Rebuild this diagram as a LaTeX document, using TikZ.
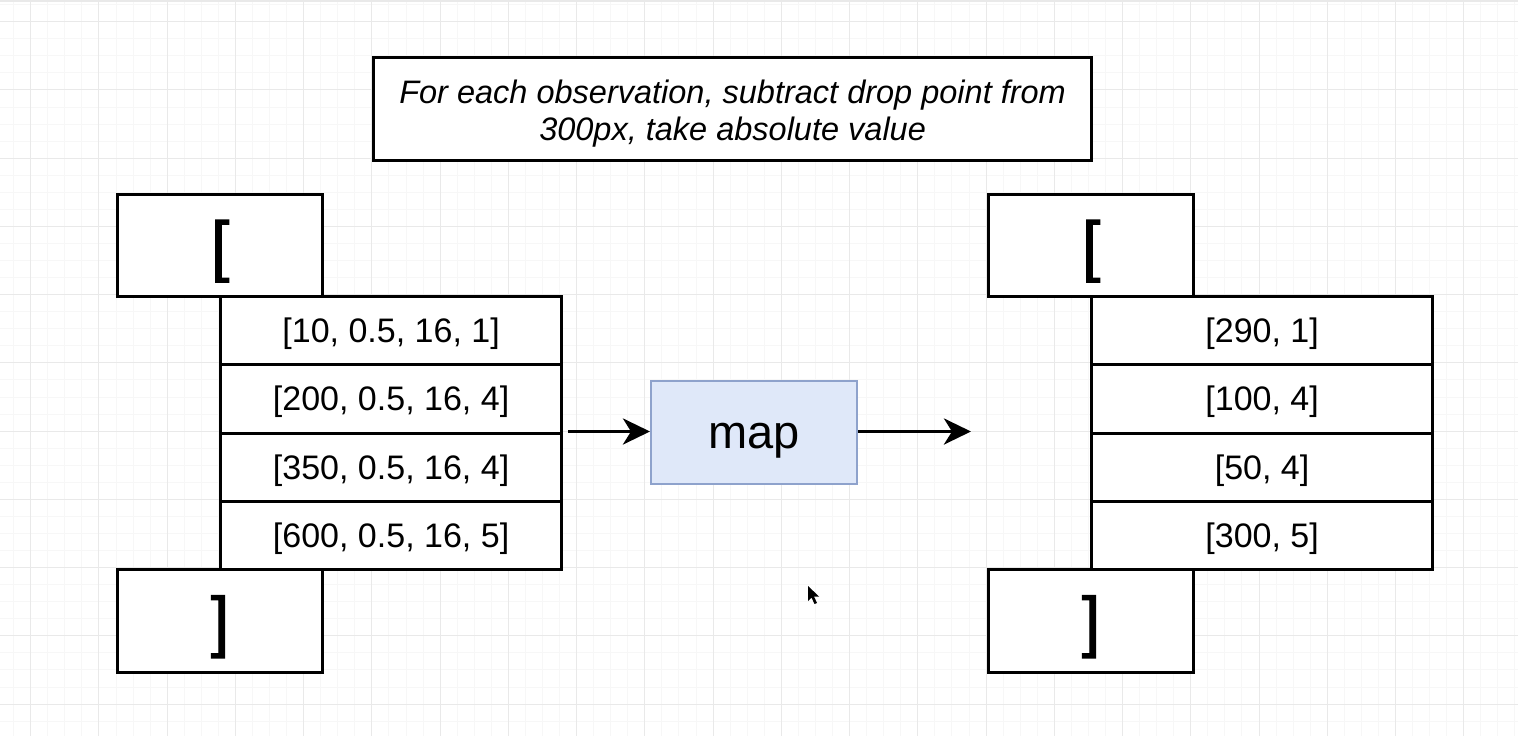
\documentclass[tikz,border=0pt]{standalone}
\usepackage{fontspec}
\setmainfont{Liberation Sans}
\newfontfamily\brkfont{Liberation Sans}[FakeBold=1.6]
\usetikzlibrary{arrows.meta}
\definecolor{gridminor}{HTML}{F7F7F7}
\definecolor{gridmajor}{HTML}{E9E9E9}
\definecolor{mapfill}{HTML}{DFE8F9}
\definecolor{mapdraw}{HTML}{8EA2CC}
\tikzset{
  boxbase/.style={draw=black, line width=3.2pt, inner sep=0pt, anchor=north west, fill=white},
  brkbox/.style={boxbase, minimum width=205pt, minimum height=102.5pt,
    font=\brkfont\fontsize{67}{80}\selectfont, text height=60.6pt, text depth=14.2pt},
  rowbox/.style={boxbase, minimum width=341pt, minimum height=68.25pt,
    font=\fontsize{34}{40}\selectfont, text height=30.8pt, text depth=7.2pt},
  mapbox/.style={draw=mapdraw, fill=mapfill, line width=2.4pt, inner sep=0pt, anchor=north west,
    minimum width=206pt, minimum height=103pt,
    font=\fontsize{47}{56}\selectfont, text height=42.5pt, text depth=10pt},
  titlebox/.style={boxbase, minimum width=718pt, minimum height=102.5pt},
  titletext/.style={inner sep=0pt, align=center, font=\fontsize{32.5}{37.5}\selectfont\itshape},
  flow/.style={line width=3.8pt, -{Stealth[length=27pt, width=26pt, inset=8pt]}},
}
\begin{document}
\begin{tikzpicture}[x=1pt, y=-1pt]
\useasboundingbox (0,0) rectangle (1518,736);
\fill[white] (0,0) rectangle (1518,736);
% grid
\foreach \i in {-1,...,87} {
  \draw[gridminor, line width=1pt] ({30.7+17.06*\i},0) -- ({30.7+17.06*\i},736);
}
\foreach \i in {-1,...,42} {
  \draw[gridminor, line width=1pt] (0,{21.7+17.06*\i}) -- (1518,{21.7+17.06*\i});
}
\foreach \i in {0,...,21} {
  \draw[gridmajor, line width=1pt] ({30.7+68.25*\i},0) -- ({30.7+68.25*\i},736);
}
\foreach \i in {0,...,10} {
  \draw[gridmajor, line width=1pt] (0,{21.7+68.25*\i}) -- (1518,{21.7+68.25*\i});
}
\draw[gridmajor, line width=1.5pt] (0,1) -- (1518,1);

% title
\node[titlebox] (title) at (372,56) {};
\node[titletext] (titlet) at ([yshift=-4.5pt]title.center) {For each observation, subtract drop point from\\300px, take absolute value};

% left array
\node[rowbox] (l1) at (219,295) {[10, 0.5, 16, 1]};
\node[rowbox] (l2) at (219,363.25) {[200, 0.5, 16, 4]};
\node[rowbox] (l3) at (219,431.5) {[350, 0.5, 16, 4]};
\node[rowbox] (l4) at (219,499.75) {[600, 0.5, 16, 5]};
\node[brkbox] (lo) at (116,192.5) {[};
\node[brkbox] (lc) at (116,568) {]};

% right array
\node[rowbox] (r1) at (1090,295) {[290, 1]};
\node[rowbox] (r2) at (1090,363.25) {[100, 4]};
\node[rowbox] (r3) at (1090,431.5) {[50, 4]};
\node[rowbox] (r4) at (1090,499.75) {[300, 5]};
\node[brkbox] (ro) at (987,192.5) {[};
\node[brkbox] (rc) at (987,568) {]};

% map
\node[mapbox] (map) at (650,380) {map};
\coordinate (out) at (971,431.5);
\draw[flow] ([xshift=5pt]l3.north east) -- (map.west |- l3.north east);
\draw[flow] (map.east |- out) -- (out);

% cursor
\fill[black] (808,586) -- (808,601) -- (811.5,597.5) -- (814.5,604) -- (817,603) -- (814,596.5) -- (819,596.5) -- cycle;
\end{tikzpicture}
\end{document}
